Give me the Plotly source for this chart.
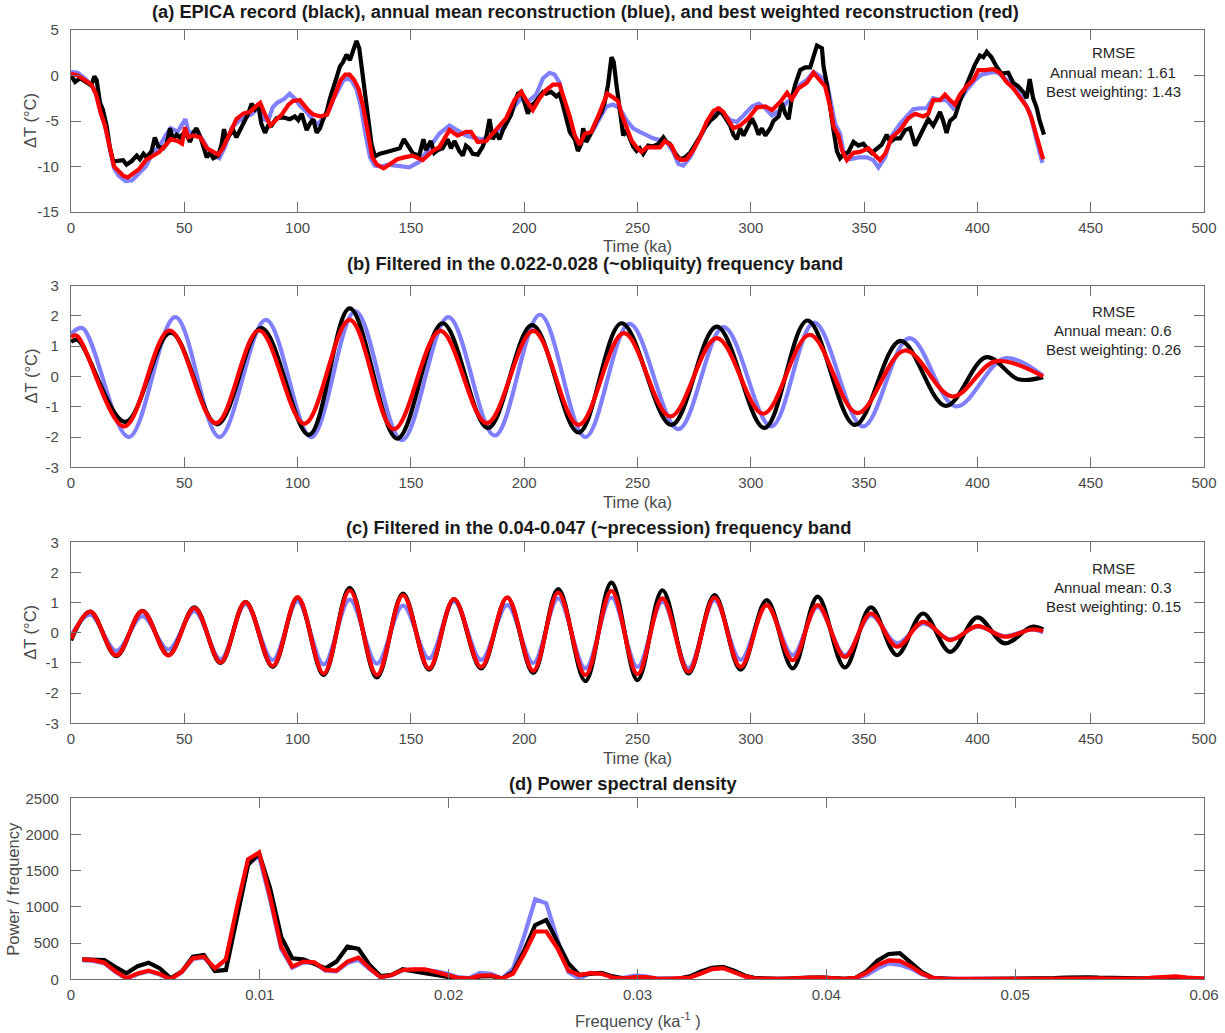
import plotly.graph_objects as go

# ---------------- (a) raw record and reconstructions ----------------
black_a_t = [0, 1.8, 4, 7, 9, 10.3, 11.3, 12.8, 14, 15.7, 17.2, 18.7, 20, 23, 24.5, 26.8, 29, 30.4, 32, 33.4,
             35.6, 37, 38.5, 40.7, 42.2, 43.7, 45, 46.6, 48, 50.3, 52.5, 54, 55.4, 57, 58.7, 59.9, 61.3, 62.8,
             65, 66.5, 67.5, 68.7, 70.1, 71.6, 73, 74.6, 76.8, 78.2, 79.7, 81.2, 82.6, 84, 85.6, 87, 88.5, 90.7,
             93.7, 96.6, 98.8, 100.3, 101.8, 103.2, 104, 105.4, 106.9, 108.4, 109.9, 111.3, 112.8, 114.3, 115.7,
             117.2, 118.7, 120.1, 121.6, 123.1, 124.6, 126, 127.2, 128.2, 129.7, 131.2, 132.6, 134.1, 136.3,
             139.3, 142.2, 145.1, 146.9, 148.8, 151, 153.7, 155.5, 156.6, 158.8, 160.3, 161.8, 164, 166.2, 167.7,
             169.2, 171.4, 172.9, 174.3, 175.8, 177.3, 179.5, 181.7, 183.2, 184.7, 186.1, 187.6, 189.1, 190.6,
             192, 194.2, 195.7, 197.2, 198.7, 200.1, 201.6, 203.1, 204.6, 206.8, 208.3, 209.7, 211.9, 214.2,
             215.6, 217.1, 218.6, 220.1, 222.3, 223.7, 225.2, 226, 227.4, 229.6, 231.9, 234.1, 235.5, 237, 238.5,
             239.5, 240.7, 242.2, 243.7, 245.1, 246.6, 248.1, 249.6, 251, 252.5, 254.7, 256.9, 259.2, 261.4,
             262.8, 264.3, 266.5, 268.7, 271, 273.2, 275.4, 277.6, 279.8, 282, 284.3, 286.5, 288.6, 290.9, 292.3,
             293.8, 295.3, 296.8, 299, 300.5, 302, 303.4, 304.9, 306.4, 308.6, 310, 312.3, 313.7, 315.2, 316.7,
             318.1, 319.6, 321.8, 324, 326.2, 327.7, 329.2, 331.4, 332.1, 333.6, 335, 336.5, 338, 339.4, 340.9,
             343.1, 345.3, 347.5, 349.7, 351.2, 353.4, 355.6, 357.8, 360, 361.5, 363.7, 365.9, 368.1, 370.3,
             372.5, 374.7, 376.9, 378.3, 380.5, 382, 383.5, 384.9, 386.4, 387.9, 390.1, 392.3, 394.5, 396.7,
             398.9, 401.1, 402.6, 404.1, 406.2, 408.4, 410.6, 413.6, 415.8, 418, 420.2, 421.7, 423.1, 424.6,
             426.1, 427.5, 429.4]
black_a = [0.0, -0.7, -0.3, -0.8, -1.1, -0.1, -0.5, -3.0, -3.7, -5.5, -8.0, -9.5, -9.4, -9.3, -9.8, -9.4, -8.8,
           -9.2, -8.6, -9.0, -8.3, -6.8, -7.8, -8.0, -7.5, -5.8, -7.0, -6.5, -6.8, -6.2, -7.3, -6.3, -5.8, -6.7,
           -8.3, -9.0, -8.5, -9.1, -8.8, -7.5, -5.9, -7.0, -6.5, -6.0, -6.8, -6.0, -5.0, -4.2, -3.1, -3.7, -3.2,
           -5.3, -6.3, -5.5, -5.5, -4.7, -4.6, -4.8, -4.5, -4.9, -4.2, -5.5, -6.0, -5.3, -4.8, -6.3, -5.8, -4.8,
           -4.0, -2.5, -1.2, -0.2, 1.0, 1.5, 2.3, 1.7, 2.8, 3.8, 3.0, 1.0, -2.0, -5.0, -7.5, -8.9, -8.6, -8.4,
           -8.2, -8.0, -7.0, -7.8, -8.6, -8.8, -7.0, -8.2, -7.2, -8.5, -8.2, -8.0, -7.0, -8.0, -7.2, -8.3, -8.8,
           -7.7, -8.0, -8.6, -8.7, -7.8, -6.8, -4.8, -7.0, -6.3, -7.0, -6.0, -5.3, -4.3, -3.0, -2.0, -1.8, -2.8,
           -4.2, -3.3, -3.0, -2.3, -1.8, -2.0, -1.8, -2.3, -2.0, -3.3, -5.0, -6.2, -7.0, -8.3, -7.5, -5.8, -7.3,
           -6.3, -5.0, -4.0, -3.0, -1.0, 2.0, 1.5, -1.0, -4.0, -6.6, -6.0, -7.0, -7.8, -8.3, -8.0, -8.6, -7.7,
           -7.8, -7.5, -6.8, -7.3, -7.5, -8.5, -9.2, -9.0, -8.5, -7.7, -6.7, -5.7, -5.0, -4.5, -3.8, -4.6, -5.5,
           -6.5, -7.0, -5.8, -6.6, -5.5, -4.7, -5.5, -6.5, -5.8, -6.6, -5.8, -5.0, -4.5, -3.0, -4.2, -4.8, -2.5,
           -1.0, 0.6, 0.9, 0.9, 2.0, 3.3, 3.0, 1.0, -1.0, -3.7, -6.0, -8.3, -9.1, -8.7, -8.4, -7.3, -7.7, -7.5,
           -8.0, -8.5, -8.1, -7.6, -6.5, -7.3, -6.9, -6.9, -6.0, -5.8, -7.7, -6.7, -5.5, -4.8, -5.5, -4.8, -4.0,
           -5.0, -6.3, -5.0, -4.5, -2.8, -1.5, -0.2, 1.2, 2.2, 2.0, 2.6, 2.0, 1.0, 0.2, 0.3, -0.8, -1.2, -1.8,
           -2.5, -0.4, -2.5, -3.5, -5.0, -6.5]

blue_a_t = [0, 3, 6, 9, 11, 13, 15, 17, 19, 21, 24, 27, 30, 33, 36, 39, 42, 44, 47, 49, 50.5, 52, 55, 58, 61,
            63, 65.5, 68, 71, 74, 77, 80, 83, 85, 87, 89, 91, 94, 96.5, 99, 101, 104, 107, 109, 111, 114, 116,
            118, 120, 122, 124, 126, 128, 130, 132, 134, 137, 140, 143, 146, 149.3, 153.7, 158.1, 162.5, 167,
            170.6, 174.3, 177.3, 181, 184.7, 188.3, 192, 195.7, 198.7, 201.6, 205.3, 208.3, 211.2, 213.4, 215.6,
            217.8, 220.1, 222.3, 223.7, 226.7, 230.4, 233.3, 236.3, 239.2, 242.2, 245.1, 248.1, 251, 254, 256.9,
            259.9, 262.8, 265.8, 268, 270.2, 273.2, 276.1, 279.1, 282, 285, 287.9, 290.9, 293.8, 296.8, 300.5,
            303.4, 306.4, 309.4, 313, 316, 319, 321.8, 324.7, 327.7, 330.6, 333.6, 335.8, 337.2, 339.4, 340.9,
            343.8, 347.5, 351.2, 354.1, 356.3, 359.3, 362.2, 365.9, 368.8, 371.7, 374.7, 377.6, 380.5, 383.5,
            386.4, 389.3, 392.3, 395.2, 398.9, 401.8, 405.5, 408.4, 411.3, 414.3, 417.3, 420.2, 423.1, 426.1,
            428.7]
blue_a = [0.4, 0.3, -0.3, -1.0, -2.0, -4.0, -5.5, -8.0, -10.2, -11.0, -11.6, -11.5, -10.8, -10.0, -8.5, -7.8,
          -6.5, -5.8, -6.2, -5.5, -4.8, -6.3, -6.2, -7.0, -8.3, -8.8, -9.1, -7.8, -5.7, -5.0, -4.6, -4.2, -3.4,
          -4.8, -5.0, -3.5, -3.0, -2.6, -2.0, -2.6, -3.3, -4.0, -5.0, -5.3, -4.8, -3.8, -2.5, -1.5, -0.6, -0.3,
          -0.6, -1.5, -3.5, -6.5, -9.0, -9.9, -10.0, -9.8, -9.9, -10.1, -10.1, -9.5, -8.0, -6.4, -5.5, -6.0,
          -6.6, -6.8, -7.0, -6.8, -6.0, -5.3, -3.4, -2.5, -2.9, -2.1, -0.3, 0.3, 0.1, -0.8, -3.1, -4.9, -6.8,
          -7.7, -6.8, -6.0, -4.7, -3.4, -3.2, -3.6, -4.9, -5.8, -6.2, -6.6, -6.9, -7.1, -7.3, -8.4, -9.7, -9.9,
          -9.0, -7.5, -6.0, -4.7, -4.0, -4.2, -4.9, -5.1, -4.4, -3.4, -3.1, -3.6, -4.4, -3.8, -2.9, -2.3, -1.0,
          -0.5, 0.4, -0.1, -0.8, -3.8, -5.3, -6.4, -8.4, -9.2, -9.0, -9.0, -9.3, -10.1, -9.0, -6.6, -5.3, -4.5,
          -3.7, -3.6, -3.6, -2.5, -2.7, -2.7, -3.6, -2.7, -1.6, -0.5, 0.1, 0.3, 0.4, -0.1, -0.8, -1.6, -2.7,
          -4.0, -7.1, -9.6]

red_a_t = [0, 3, 6, 9, 11, 13, 15, 17, 19, 21, 23, 25, 27, 30, 33, 36, 39, 42, 44, 47, 49, 50.3, 51.8, 54, 57,
           60, 63, 65, 67, 70, 73, 76, 79, 82, 83.5, 86, 88, 90, 93, 96, 98, 101, 103, 105, 107, 110, 113, 115,
           117, 119, 121, 123, 125, 127, 129, 131, 133, 135, 138, 141, 144, 147, 150.7, 155.2, 159.6, 162.5,
           167, 170.6, 174.3, 176.5, 179.5, 183.2, 186.1, 189.1, 192, 195.7, 198.7, 200.9, 203.8, 206.8, 209.7,
           212.7, 215.6, 217.8, 220.1, 222.3, 224.5, 226.7, 229.6, 232.6, 234.8, 236.6, 239.2, 241.4, 242.9,
           245.1, 247.3, 249.6, 251.8, 254, 256.9, 259.9, 262.1, 265, 267.3, 269.5, 271.7, 274.6, 277.6, 280.5,
           283.5, 285.7, 287.9, 290.1, 292.3, 295.3, 299, 302.7, 306.4, 309.4, 313, 316, 318.1, 321.1, 324.7,
           327.7, 330.6, 332.8, 335, 336.5, 338.7, 340.2, 342.4, 345.3, 348.2, 351.9, 354.1, 357, 359.3, 362.2,
           365.9, 369.5, 372.5, 376.1, 378.3, 380.5, 383.5, 385.7, 387.9, 390.1, 392.3, 395.2, 398.2, 400.4,
           403.3, 407, 409.9, 412.8, 415.8, 418.7, 421.7, 423.9, 426.1, 429]
red_a = [0.2, 0.0, -0.5, -1.0, -2.0, -4.0, -5.5, -8.0, -10.0, -10.5, -11.0, -11.2, -10.8, -10.3, -9.3, -8.8,
         -8.4, -7.6, -7.0, -7.2, -7.5, -5.7, -6.8, -6.6, -6.8, -8.0, -8.5, -8.7, -8.0, -6.3, -4.8, -4.2, -4.0,
         -3.3, -3.0, -4.5, -5.5, -5.0, -4.3, -3.2, -2.8, -2.7, -3.3, -3.9, -4.3, -4.5, -4.3, -3.0, -1.5, -0.5,
         0.1, 0.1, -0.5, -1.5, -3.5, -6.5, -9.0, -9.8, -10.2, -9.7, -9.2, -9.0, -8.8, -9.3, -8.3, -7.9, -6.0,
         -6.6, -6.2, -6.2, -7.3, -7.2, -6.4, -5.6, -4.7, -2.7, -1.8, -2.7, -3.8, -2.5, -1.6, -1.0, -1.0, -2.7,
         -4.5, -6.6, -7.6, -6.4, -6.2, -4.5, -3.2, -2.0, -2.4, -2.8, -4.2, -5.6, -7.1, -7.9, -8.4, -7.9, -7.9,
         -7.9, -7.2, -7.7, -9.0, -9.3, -9.2, -8.2, -6.8, -5.1, -3.9, -3.6, -4.0, -4.9, -5.8, -5.5, -4.7, -3.5,
         -3.4, -3.8, -2.9, -1.9, -2.6, -1.4, -0.8, 0.3, -0.5, -1.2, -3.4, -5.6, -6.6, -8.2, -9.3, -8.5, -8.4,
         -8.0, -8.6, -9.3, -8.6, -6.8, -6.0, -4.7, -4.2, -4.5, -4.2, -2.7, -2.7, -2.1, -2.7, -3.2, -2.1, -1.2,
         -0.5, 0.6, 0.6, 0.7, 0.3, -0.7, -1.4, -2.3, -3.4, -4.7, -6.8, -9.2]

# ---------------- (b) obliquity band: turning points ----------------
black_b_t = [0, 3, 24, 44, 64.5, 84, 105, 123, 144, 164, 184, 203.5, 224, 243, 265, 285, 306, 325, 346, 366,
             386, 404, 418, 429]
black_b = [1.15, 1.2, -1.5, 1.45, -1.58, 1.6, -1.93, 2.25, -2.05, 1.76, -1.7, 1.7, -1.85, 1.76, -1.6, 1.65,
           -1.7, 1.85, -1.6, 1.18, -0.97, 0.64, -0.09, -0.02]
blue_b_t = [0, 5, 25.5, 46, 65.5, 86, 106, 125.5, 146, 166.5, 187, 207, 227, 246.5, 268, 288, 309, 328, 349.5,
            370, 390.5, 412, 429]
blue_b = [1.4, 1.6, -2.0, 1.96, -2.0, 1.87, -2.0, 2.15, -2.1, 1.96, -1.95, 2.04, -2.0, 1.74, -1.74, 1.63, -1.65,
          1.78, -1.65, 1.27, -0.99, 0.6, 0.02]
red_b_t = [0, 2.5, 23.5, 43.5, 64, 83, 103, 123, 142.5, 163, 183.5, 204, 224, 244, 264.5, 285, 305.5, 326, 347,
           368, 389, 408, 429]
red_b = [1.3, 1.35, -1.65, 1.52, -1.54, 1.52, -1.56, 1.87, -1.74, 1.51, -1.54, 1.51, -1.6, 1.43, -1.32, 1.27,
         -1.23, 1.38, -1.21, 0.86, -0.66, 0.5, 0.0]

# ---------------- (c) precession band: turning points ----------------
band_c_t = [0, 8.5, 20, 31.5, 43, 54.5, 66, 77, 89, 100, 111.5, 123, 135, 146.5, 158, 169, 181, 192.5, 204, 215,
            227, 238.5, 250, 261, 272.5, 284, 295.5, 307, 318.5, 329.5, 341.5, 353, 364.5, 376, 388, 400, 412,
            424, 429]
black_c = [-0.25, 0.7, -0.77, 0.73, -0.74, 0.84, -1.0, 1.03, -1.13, 1.17, -1.4, 1.49, -1.48, 1.3, -1.22, 1.12,
           -1.18, 1.17, -1.33, 1.45, -1.6, 1.66, -1.57, 1.41, -1.35, 1.25, -1.22, 1.08, -1.18, 1.2, -1.15, 0.84,
           -0.74, 0.64, -0.63, 0.51, -0.35, 0.2, 0.11]
blue_c = [-0.1, 0.6, -0.6, 0.55, -0.55, 0.72, -0.88, 0.95, -0.9, 1.05, -1.05, 1.1, -1.02, 0.9, -0.85, 1.05, -0.9,
          0.92, -1.0, 1.14, -1.18, 1.17, -1.13, 1.03, -1.18, 1.08, -0.9, 0.92, -0.74, 0.86, -0.74, 0.58, -0.35,
          0.31, -0.22, 0.2, -0.11, 0.11, 0.01]
red_c = [-0.2, 0.7, -0.75, 0.72, -0.75, 0.82, -0.98, 1.02, -1.1, 1.18, -1.35, 1.41, -1.4, 1.25, -1.18, 1.12,
         -1.13, 1.17, -1.26, 1.33, -1.4, 1.39, -1.37, 1.14, -1.29, 1.17, -1.13, 0.92, -0.91, 0.92, -0.8, 0.64,
         -0.46, 0.36, -0.24, 0.22, -0.13, 0.11, 0.06]

# ---------------- (d) power spectral density ----------------
freq = [0.000600, 0.001185, 0.001770, 0.002355, 0.002940, 0.003525, 0.004110, 0.004695, 0.005280, 0.005865,
        0.006450, 0.007035, 0.007620, 0.008205, 0.008790, 0.009375, 0.009960, 0.010545, 0.011130, 0.011715,
        0.012300, 0.012885, 0.013470, 0.014055, 0.014640, 0.015225, 0.015810, 0.016395, 0.016980, 0.017565,
        0.018150, 0.018735, 0.019320, 0.019905, 0.020490, 0.021075, 0.021660, 0.022245, 0.022830, 0.023415,
        0.024000, 0.024585, 0.025170, 0.025755, 0.026340, 0.026925, 0.027510, 0.028095, 0.028680, 0.029265,
        0.029850, 0.030435, 0.031020, 0.031605, 0.032190, 0.032775, 0.033360, 0.033945, 0.034530, 0.035115,
        0.035700, 0.036285, 0.036870, 0.037455, 0.038040, 0.038625, 0.039210, 0.039795, 0.040380, 0.040965,
        0.041550, 0.042135, 0.042720, 0.043305, 0.043890, 0.044475, 0.045060, 0.045645, 0.046230, 0.046815,
        0.047400, 0.047985, 0.048570, 0.049155, 0.049740, 0.050325, 0.050910, 0.051495, 0.052080, 0.052665,
        0.053250, 0.053835, 0.054420, 0.055005, 0.055590, 0.056175, 0.056760, 0.057345, 0.057930, 0.058515,
        0.059100, 0.059685, 0.060270]
psd_black = [276, 272, 267, 170, 83, 180, 230, 152, 14, 106,
             313, 336, 115, 129, 850, 1579, 1740, 1257, 590, 290,
             276, 221, 152, 244, 451, 419, 198, 46, 60, 138,
             106, 83, 60, 30, 10, 5, 40, 45, 10, 100,
             400, 750, 820, 520, 220, 60, 80, 90, 40, 10,
             0, 5, 10, 5, 10, 40, 110, 160, 170, 120,
             50, 15, 5, 5, 10, 20, 25, 25, 20, 5,
             20, 110, 260, 350, 360, 230, 100, 20, 5, 3,
             3, 3, 3, 3, 5, 5, 8, 10, 15, 25,
             30, 28, 22, 18, 12, 8, 5, 10, 20, 22,
             15, 8, 5]
psd_blue = [265, 255, 220, 100, 10, 70, 110, 65, 0, 100,
            280, 300, 145, 270, 950, 1600, 1700, 1100, 420, 160,
            235, 225, 120, 110, 225, 270, 140, 25, 55, 125,
            135, 130, 110, 80, 30, 15, 90, 75, 10, 150,
            600, 1105, 1050, 550, 100, 10, 90, 80, 30, 20,
            50, 40, 10, 5, 10, 25, 80, 140, 160, 110,
            40, 10, 5, 5, 10, 20, 25, 25, 15, 5,
            15, 60, 150, 220, 200, 150, 70, 15, 5, 3,
            3, 3, 3, 3, 3, 5, 5, 5, 8, 10,
            10, 10, 8, 8, 5, 5, 10, 20, 30, 30,
            20, 10, 5]
psd_red = [276, 265, 230, 110, 14, 80, 120, 75, 0, 106,
           290, 313, 152, 276, 1000, 1657, 1750, 1140, 451, 175,
           244, 235, 129, 120, 244, 300, 152, 28, 60, 129,
           138, 138, 100, 60, 20, 10, 50, 55, 10, 80,
           350, 660, 660, 430, 120, 60, 85, 75, 25, 10,
           30, 30, 10, 5, 10, 25, 80, 140, 155, 100,
           40, 10, 5, 5, 10, 20, 25, 25, 20, 5,
           20, 90, 200, 260, 255, 180, 80, 20, 5, 3,
           3, 3, 3, 3, 5, 5, 5, 8, 10, 12,
           15, 15, 12, 10, 8, 5, 10, 25, 38, 40,
           25, 12, 5]

# tick positions and labels
time_ticks = [0, 50, 100, 150, 200, 250, 300, 350, 400, 450, 500]
freq_ticks = [0, 0.01, 0.02, 0.03, 0.04, 0.05, 0.06]
freq_tick_text = ["0", "0.01", "0.02", "0.03", "0.04", "0.05", "0.06"]
dt_a_ticks = [-15, -10, -5, 0, 5]
dt_band_ticks = [-3, -2, -1, 0, 1, 2, 3]
psd_ticks = [0, 500, 1000, 1500, 2000, 2500]

rmse_a = ("1.61", "1.43")
rmse_b = ("0.6", "0.26")
rmse_c = ("0.3", "0.15")

BLUE = "#8080ff"
RED = "#ff0000"
BLACK = "#000000"
LW = 4.2
FONT = "Liberation Sans, Arial, Helvetica, sans-serif"
TICK_COL = "#4a4a4a"
AX_COL = "#6e6e6e"

W, H = 1225, 1033
X0, X1 = 71, 1204
panels = [(30, 212), (285.7, 467.3), (542.3, 723.3), (798.3, 979.3)]


def py(pix):
    return 1 - pix / H


fig = go.Figure()


def add_lines(idx, series, shape):
    sfx = "" if idx == 1 else str(idx)
    for t, v, col in series:
        fig.add_trace(go.Scatter(
            x=t, y=v, mode="lines", xaxis="x" + sfx, yaxis="y" + sfx,
            line=dict(color=col, width=LW, shape=shape, smoothing=1.0),
            hoverinfo="skip", showlegend=False))


add_lines(1, [(blue_a_t, blue_a, BLUE), (black_a_t, black_a, BLACK), (red_a_t, red_a, RED)], "linear")
add_lines(2, [(blue_b_t, blue_b, BLUE), (black_b_t, black_b, BLACK), (red_b_t, red_b, RED)], "spline")
add_lines(3, [(band_c_t, blue_c, BLUE), (band_c_t, black_c, BLACK), (band_c_t, red_c, RED)], "spline")
add_lines(4, [(freq, psd_blue, BLUE), (freq, psd_black, BLACK), (freq, psd_red, RED)], "linear")

axis_common = dict(
    showline=True, linecolor=AX_COL, linewidth=1.2, mirror="ticks",
    ticks="inside", ticklen=10, tickwidth=1.2, tickcolor=AX_COL,
    showgrid=False, zeroline=False, automargin=False,
    tickfont=dict(family=FONT, size=15, color=TICK_COL),
)

layout = dict(
    width=W, height=H, margin=dict(l=0, r=0, t=0, b=0),
    paper_bgcolor="white", plot_bgcolor="white", showlegend=False,
)

yspecs = [((-15, 5), dt_a_ticks), ((-3, 3), dt_band_ticks), ((-3, 3), dt_band_ticks), ((0, 2500), psd_ticks)]
xspecs = [((0, 500), time_ticks, [str(v) for v in time_ticks])] * 3 + [((0, 0.06), freq_ticks, freq_tick_text)]
for i, ((top, bot), (yr, yt), (xr, xt, xtt)) in enumerate(zip(panels, yspecs, xspecs), start=1):
    sfx = "" if i == 1 else str(i)
    layout["xaxis" + sfx] = dict(axis_common, domain=[X0 / W, X1 / W], range=list(xr),
                                 tickmode="array", tickvals=xt, ticktext=xtt,
                                 anchor="y" + sfx, ticklabelstandoff=2)
    layout["yaxis" + sfx] = dict(axis_common, domain=[py(bot), py(top)], range=list(yr),
                                 tickmode="array", tickvals=yt, ticktext=[str(v) for v in yt],
                                 anchor="x" + sfx, ticklabelstandoff=8)

fig.update_layout(**layout)

ann = []
cx = (X0 + X1) / 2


def text(x, y, s, size=15, color="#262626", bold=False, angle=0):
    ann.append(dict(x=x / W, y=py(y), xref="paper", yref="paper", text=("<b>%s</b>" % s) if bold else s,
                    showarrow=False, xanchor="center", yanchor="middle", textangle=angle,
                    font=dict(family=FONT, size=size, color=color)))


titles = [
    (585, 12, "(a) EPICA record (black), annual mean reconstruction (blue), and best weighted reconstruction (red)"),
    (595, 264, "(b) Filtered in the 0.022-0.028 (~obliquity) frequency band"),
    (598, 527, "(c) Filtered in the 0.04-0.047 (~precession) frequency band"),
    (623, 783, "(d) Power spectral density"),
]
for x, y, s in titles:
    text(x, y, s, size=18.3, color="#1a1a1a", bold=True)

for y in (246, 502, 758):
    text(cx, y, "Time (ka)", size=16.5, color="#4a4a4a")
text(cx, 1020, "Frequency (ka<sup>-1</sup> )", size=16.5, color="#4a4a4a")

for top, bot in panels[:3]:
    text(30, (top + bot) / 2, "ΔT (°C)", size=16.5, color="#4a4a4a", angle=-90)
text(13, (panels[3][0] + panels[3][1]) / 2, "Power / frequency", size=16.5, color="#4a4a4a", angle=-90)

for y0, (am, bw) in zip((53, 311, 568), (rmse_a, rmse_b, rmse_c)):
    text(1113, y0, "RMSE")
    text(1113, y0 + 19.3, "Annual mean: " + am)
    text(1113, y0 + 38.6, "Best weighting: " + bw)

fig.update_layout(annotations=ann)
fig.write_html("out.html")
